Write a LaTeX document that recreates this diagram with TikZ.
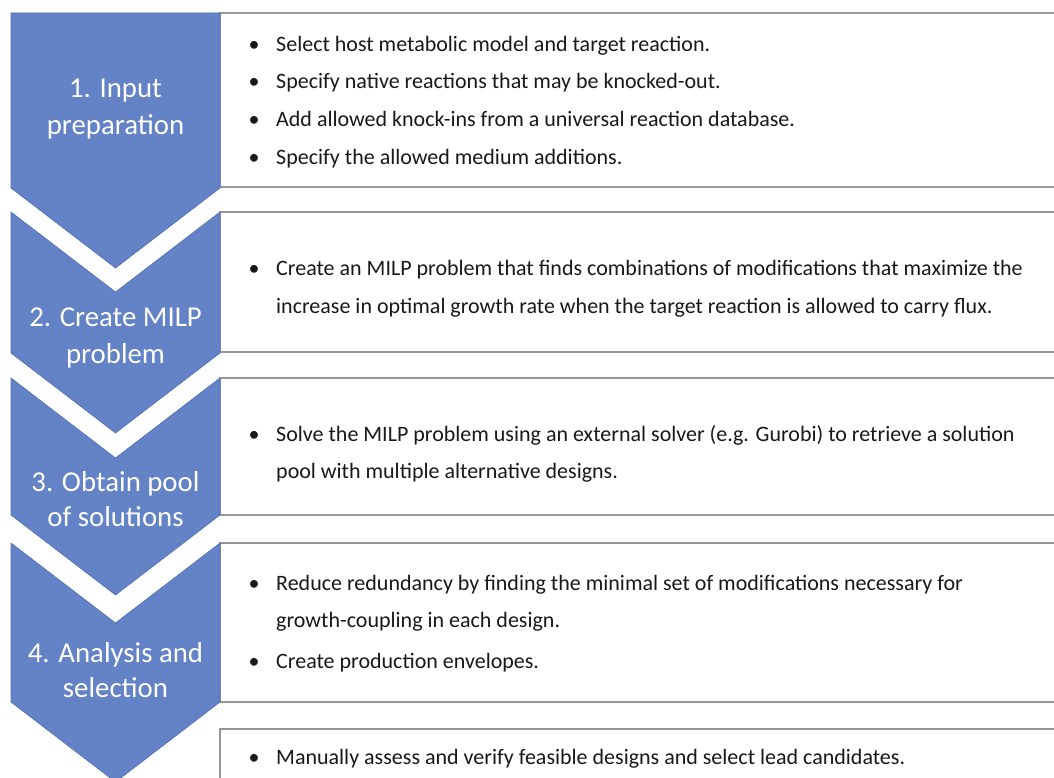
\documentclass[tikz,border=0pt]{standalone}
\usepackage{fontspec}
\setmainfont{Carlito}
\definecolor{chevfill}{RGB}{100,130,198}
\definecolor{chevline}{RGB}{80,110,180}
\definecolor{boxline}{RGB}{150,150,150}
\definecolor{txt}{RGB}{25,25,25}
\begin{document}
\begin{tikzpicture}[x=1pt,y=-1pt,
  chev/.style={fill=chevfill,draw=chevline,line width=0.6pt},
  panel/.style={draw=boxline,line width=1.4pt,fill=white},
  steplabel/.style={text=white,font=\fontsize{28.8}{34}\selectfont,anchor=base,inner sep=0pt},
  item/.style={text=txt,font=\fontsize{22}{26}\selectfont,anchor=base west,inner sep=0pt},
  bul/.style={text=txt,font=\fontsize{22}{26}\selectfont,anchor=base,inner sep=0pt}]
\useasboundingbox (0,0) rectangle (1054,778);
\clip (0,0) rectangle (1054,778);
% panels
\draw[panel] (220,13) rectangle (1070,187);
\draw[panel] (220,212) rectangle (1070,352);
\draw[panel] (220,378) rectangle (1070,515);
\draw[panel] (220,543) rectangle (1070,702);
\draw[panel] (220,729) rectangle (1070,800);
% chevrons
\draw[chev] (11,13) -- (220,13) -- (220,188) -- (115.5,268) -- (11,188) -- cycle;
\draw[chev] (11,212) -- (115.5,292) -- (220,212) -- (220,353) -- (115.5,433) -- (11,353) -- cycle;
\draw[chev] (11,378) -- (115.5,458) -- (220,378) -- (220,515) -- (115.5,595) -- (11,515) -- cycle;
\draw[chev] (11,543) -- (115.5,623) -- (220,543) -- (220,702) -- (115.5,782) -- (11,702) -- cycle;
% step labels
\node[steplabel] (s1a) at (115.5,98) {1. Input};
\node[steplabel] (s1b) at (115.5,135) {preparation};
\node[steplabel] (s2a) at (115.5,326) {2. Create MILP};
\node[steplabel] (s2b) at (115.5,363) {problem};
\node[steplabel] (s3a) at (115.5,491) {3. Obtain pool};
\node[steplabel] (s3b) at (115.5,526) {of solutions};
\node[steplabel] (s4a) at (115.5,662) {4. Analysis and};
\node[steplabel] (s4b) at (115.5,697) {selection};
% panel 1
\node[bul] (b11) at (254,52) {•};
\node[item] (t11) at (276,52) {Select host metabolic model and target reaction.};
\node[bul] (b12) at (254,89) {•};
\node[item] (t12) at (276,89) {Specify native reactions that may be knocked-out.};
\node[bul] (b13) at (254,127) {•};
\node[item] (t13) at (276,127) {Add allowed knock-ins from a universal reaction database.};
\node[bul] (b14) at (254,165) {•};
\node[item] (t14) at (276,165) {Specify the allowed medium additions.};
% panel 2
\node[bul] (b21) at (254,275) {•};
\node[item] (t21) at (276,275) {Create an MILP problem that finds combinations of modifications that maximize the};
\node[item] (t22) at (276,313) {increase in optimal growth rate when the target reaction is allowed to carry flux.};
% panel 3
\node[bul] (b31) at (254,441) {•};
\node[item] (t31) at (276,441) {Solve the MILP problem using an external solver (e.g. Gurobi) to retrieve a solution};
\node[item] (t32) at (276,478) {pool with multiple alternative designs.};
% panel 4
\node[bul] (b41) at (254,590) {•};
\node[item] (t41) at (276,590) {Reduce redundancy by finding the minimal set of modifications necessary for};
\node[item] (t42) at (276,627) {growth-coupling in each design.};
\node[bul] (b43) at (254,668) {•};
\node[item] (t43) at (276,668) {Create production envelopes.};
% panel 5
\node[bul] (b51) at (254,764) {•};
\node[item] (t51) at (276,764) {Manually assess and verify feasible designs and select lead candidates.};
\end{tikzpicture}
\end{document}
